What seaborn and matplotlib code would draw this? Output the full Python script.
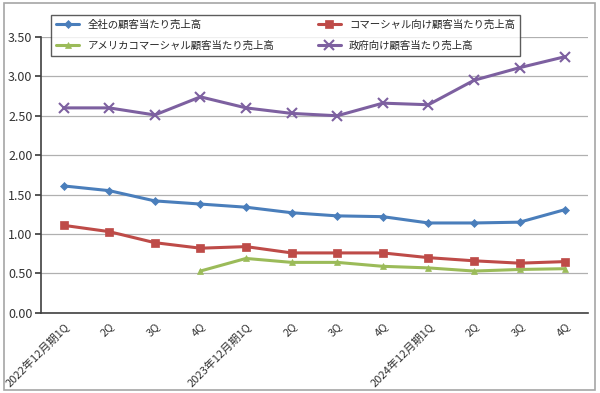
import numpy as np
import pandas as pd
import matplotlib
matplotlib.use("Agg")
import matplotlib.pyplot as plt
import seaborn as sns
from matplotlib.patches import Rectangle

# quarter labels on the x axis
quarters = ["2022年12月期1Q", "2Q", "3Q", "4Q",
            "2023年12月期1Q", "2Q", "3Q", "4Q",
            "2024年12月期1Q", "2Q", "3Q", "4Q"]

# revenue per customer
total_vals = [1.61, 1.55, 1.42, 1.38, 1.34, 1.27, 1.23, 1.22, 1.14, 1.14, 1.15, 1.31]
commercial_vals = [1.11, 1.03, 0.89, 0.82, 0.84, 0.76, 0.76, 0.76, 0.70, 0.66, 0.63, 0.65]
us_commercial_vals = [np.nan, np.nan, np.nan, 0.53, 0.69, 0.64, 0.64, 0.59, 0.57, 0.53, 0.55, 0.56]
government_vals = [2.60, 2.60, 2.51, 2.74, 2.60, 2.53, 2.50, 2.66, 2.64, 2.95, 3.11, 3.25]

series_names = ["全社の顧客当たり売上高", "アメリカコマーシャル顧客当たり売上高",
                "コマーシャル向け顧客当たり売上高", "政府向け顧客当たり売上高"]
series_vals = [total_vals, us_commercial_vals, commercial_vals, government_vals]
colors = ["#4A7EBB", "#9BBB59", "#BE4B48", "#7D60A0"]
markers = ["D", "^", "s", "x"]
msizes = [4, 5, 6, 7]

sns.set_theme(style="white")
plt.rcParams["font.family"] = ["Noto Sans CJK JP", "DejaVu Sans"]

fig = plt.figure(figsize=(6, 3.93), dpi=100)
ax = fig.add_axes([0.068, 0.204, 0.912, 0.702])

x = np.arange(len(quarters))
for name, vals, c, m, ms in zip(series_names, series_vals, colors, markers, msizes):
    df = pd.DataFrame({"x": x, "y": vals}).dropna()
    sns.lineplot(data=df, x="x", y="y", ax=ax, color=c, linewidth=2.2,
                 marker=m, markersize=ms, markeredgecolor=c,
                 markeredgewidth=1.5 if m == "x" else 0.5, label=name)

ax.set_xlim(-0.5, len(quarters) - 0.5)
ax.set_ylim(0, 3.5)
ax.set_yticks(np.arange(0, 3.51, 0.5))
ax.set_yticklabels([f"{v:.2f}" for v in np.arange(0, 3.51, 0.5)], fontsize=9, color="#333333")
ax.yaxis.grid(True, color="#b0b0b0", linewidth=0.9)
ax.set_axisbelow(True)

ax.set_xticks(x)
ax.set_xticklabels(quarters, rotation=45, ha="right", rotation_mode="anchor",
                   fontsize=8, color="#333333")
ax.set_xticks(np.arange(-0.5, len(quarters), 1), minor=True)
ax.tick_params(axis="x", which="major", length=0, pad=6)
ax.tick_params(axis="x", which="minor", length=4, color="#404040", direction="out")
ax.tick_params(axis="y", length=4, color="#404040", direction="out", left=True, pad=2)
ax.set_xlabel("")
ax.set_ylabel("")

for side in ["top", "right"]:
    ax.spines[side].set_visible(False)
for side in ["left", "bottom"]:
    ax.spines[side].set_color("#404040")
    ax.spines[side].set_linewidth(1.2)

leg = ax.legend(ncol=2, loc="upper left", bbox_to_anchor=(0.009, 1.10),
                frameon=True, fancybox=False, fontsize=7.5, handlelength=2.2,
                columnspacing=4.2, borderpad=0.5, labelspacing=1.0)
leg.get_frame().set_edgecolor("#333333")
leg.get_frame().set_linewidth(1.0)
leg.set_zorder(5)

# outer border of the chart area
fig.patches.append(Rectangle((0.006, 0.008), 0.985, 0.985, transform=fig.transFigure,
                             fill=False, edgecolor="#a6a6a6", linewidth=1.2))

fig.savefig("out.png", dpi=100)
